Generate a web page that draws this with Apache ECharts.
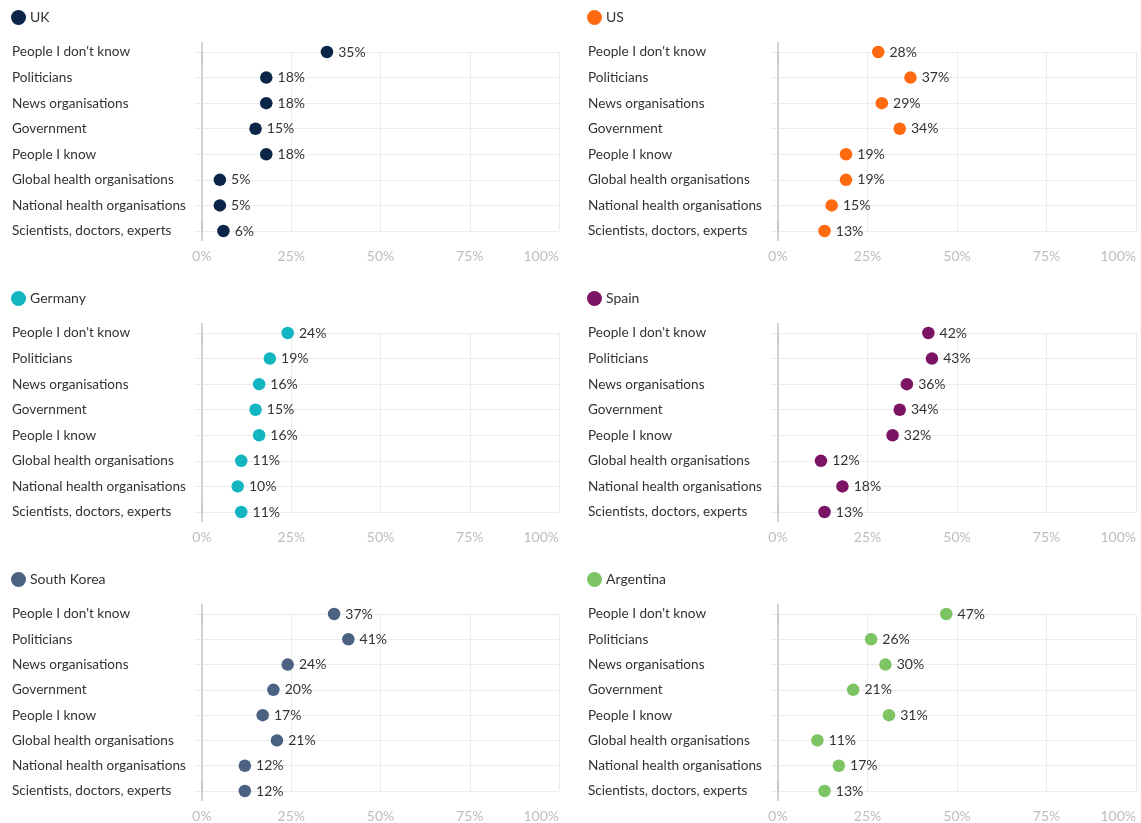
<!DOCTYPE html>
<html><head><meta charset="utf-8">
<script src="https://cdn.jsdelivr.net/npm/echarts@6/dist/echarts.min.js"></script>
<style>html,body{margin:0;padding:0;background:#fff}#c{width:1141px;height:823px}</style>
</head><body><div id="c"></div>
<script>
const categories = ["People I don't know","Politicians","News organisations","Government","People I know","Global health organisations","National health organisations","Scientists, doctors, experts"];
const xTicks = [0,25,50,75,100];
const countries = ["UK","US","Germany","Spain","South Korea","Argentina"];
const ukValues = [35,18,18,15,18,5,5,6];
const usValues = [28,37,29,34,19,19,15,13];
const germanyValues = [24,19,16,15,16,11,10,11];
const spainValues = [42,43,36,34,32,12,18,13];
const southKoreaValues = [37,41,24,20,17,21,12,12];
const argentinaValues = [47,26,30,21,31,11,17,13];
const values = [ukValues, usValues, germanyValues, spainValues, southKoreaValues, argentinaValues];
const colors = ["#0b2548","#ff6a10","#13b5c1","#7b1463","#4b6283","#7cc464"];

const FONT = "Lato";
const grids=[], xAxes=[], yAxes=[], series=[], legends=[];
countries.forEach((name,i)=>{
  const col = i%2, row = Math.floor(i/2);
  const left = col===0 ? 202 : 778;
  const right = col===0 ? 582 : 5;
  const top = 52 + row*281;
  grids.push({left:left, right:right, top:top, height:179, containLabel:false});
  xAxes.push({type:'value', gridIndex:i, min:xTicks[0], max:xTicks[xTicks.length-1], interval:25,
    axisLine:{show:false}, axisTick:{show:false},
    splitLine:{show:true, lineStyle:{color:'#ececec', width:1}},
    axisLabel:{formatter:'{value}%', color:'#bdbdbd', fontFamily:FONT, fontSize:14, margin:18, alignMaxLabel:'right'}});
  yAxes.push({type:'category', gridIndex:i, data:categories, inverse:true, boundaryGap:false,
    axisLine:{show:true, lineStyle:{color:'#c4c4c4', width:1.5}, symbol:['rect','rect'], symbolSize:[1.5,20]},
    axisTick:{show:true, length:7, lineStyle:{color:'#ececec'}},
    splitLine:{show:true, lineStyle:{color:'#ececec', width:1}},
    axisLabel:{align:'left', margin:190, color:'#333', fontFamily:FONT, fontSize:13.6}});
  series.push({type:'scatter', name:name, xAxisIndex:i, yAxisIndex:i,
    data: values[i].map((v,k)=>[v, categories[k]]),
    symbol:'circle', symbolSize:12.5, itemStyle:{color:colors[i], opacity:1},
    label:{show:true, position:'right', distance:5, color:'#333', fontFamily:FONT, fontSize:14,
      formatter:p=>p.value[0]+'%'},
    emphasis:{disabled:true}, animation:false});
  legends.push({data:[name], left: col===0 ? 6 : 582, top: 5 + row*281, icon:'circle', itemWidth:15, itemHeight:15, itemGap:4,
    selectedMode:false, textStyle:{color:'#333', fontFamily:FONT, fontSize:14, padding:[0,0,0,-1]}});
});

const chart = echarts.init(document.getElementById('c'), null, {renderer:'canvas'});
chart.setOption({animation:false, backgroundColor:'#fff', textStyle:{fontFamily:FONT},
  grid:grids, xAxis:xAxes, yAxis:yAxes, series:series, legend:legends});
</script></body></html>
